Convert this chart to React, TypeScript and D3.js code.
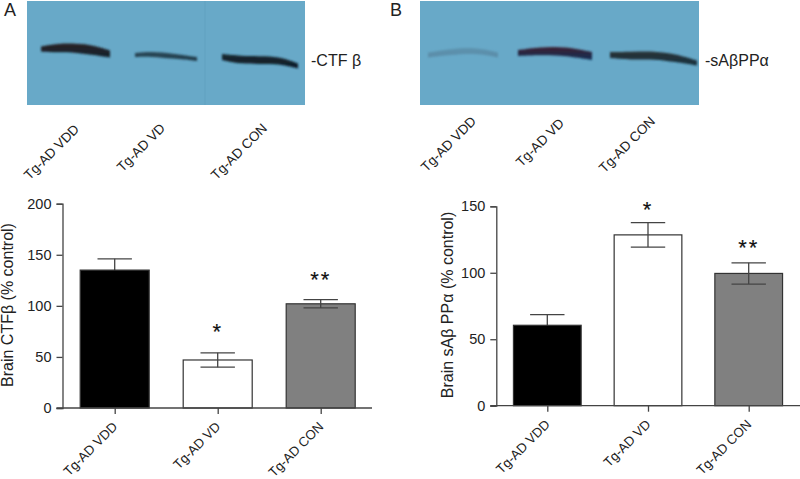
import { useRef, useEffect } from "react";
import * as d3 from "d3";

const categories = ["Tg-AD VDD", "Tg-AD VD", "Tg-AD CON"];
const barFills = ["#000000", "#ffffff", "#808080"];

const ctfValues = [135, 47, 102];
const ctfErrors = [11, 7, 4];
const ctfTicks = [0, 50, 100, 150, 200];
const ctfStars = ["", "*", "**"];
const ctfStarLevels = [0, 68, 118];

const sappValues = [60.5, 128.5, 99.5];
const sappErrors = [8, 9.2, 8];
const sappTicks = [0, 50, 100, 150];
const sappStars = ["", "*", "**"];
const sappStarLevels = [0, 142, 113];

// blot bands: [position along the blot, centre height, thickness], in blot pixels
const ctfBands: number[][][] = [
  [[14, 49, 5], [30, 48, 9], [50, 48, 9], [66, 50, 10], [83, 54, 7]],
  [[108, 55, 4], [125, 54, 5], [145, 56, 5], [170, 59, 4]],
  [[195, 57, 6], [213, 60, 8], [240, 60, 8], [255, 61, 7], [271, 66, 5]],
];
// top and bottom colour of each band
const ctfBandColors = [
  ["#2c2226", "#10242e"],
  ["#2c4a58", "#1e3a4a"],
  ["#1a2830", "#0c1c28"],
];

const sappBands: number[][][] = [
  [[8, 55, 5], [30, 52, 6], [55, 50, 6], [78, 55, 5]],
  [[98, 53, 6], [120, 51, 8], [145, 51, 9], [172, 56, 8]],
  [[190, 55, 6], [210, 56, 8], [235, 55, 8], [255, 58, 8], [277, 63, 5]],
];
const sappBandColors = [
  ["#5d93ae", "#5a8ca8"],
  ["#3e2030", "#123058"],
  ["#2a3438", "#16303e"],
];

// lane label ends (baseline) above the bar charts
const ctfLaneEnds = [[80, 130], [166, 129], [268, 129]];
const sappLaneEnds = [[477, 122], [565, 124], [656, 122]];

const FONT = "'Liberation Sans', Arial, sans-serif";
const INK = "#222";
const AXIS = "#444";

type Svg = d3.Selection<SVGSVGElement, unknown, null, undefined>;

type BarPanel = {
  values: number[];
  errors: number[];
  ticks: number[];
  stars: string[];
  starLevels: number[];
  yMax: number;
  left: number;
  right: number;
  top: number;
  bottom: number;
  firstCenter: number;
  lastCenter: number;
  barWidth: number;
  title: string;
  titleX: number;
};

function drawBars(svg: Svg, p: BarPanel) {
  const y = d3.scaleLinear().domain([0, p.yMax]).range([p.bottom, p.top]);
  const x = d3
    .scalePoint<string>()
    .domain(categories)
    .range([p.firstCenter, p.lastCenter]);
  const g = svg.append("g");

  categories.forEach((cat, i) => {
    const cx = x(cat) as number;
    const top = y(p.values[i]);
    const hi = y(p.values[i] + p.errors[i]);
    const lo = y(p.values[i] - p.errors[i]);

    const drawBar = () =>
      g
        .append("rect")
        .attr("x", cx - p.barWidth / 2)
        .attr("y", top)
        .attr("width", p.barWidth)
        .attr("height", p.bottom - top)
        .attr("fill", barFills[i])
        .attr("stroke", "#333")
        .attr("stroke-width", 1.2);

    // black bar hides the lower half of its whisker
    if (i !== 0) drawBar();
    g.append("line")
      .attr("x1", cx)
      .attr("x2", cx)
      .attr("y1", hi)
      .attr("y2", lo)
      .attr("stroke", AXIS)
      .attr("stroke-width", 1.3);
    [hi, lo].forEach((cap) => {
      g.append("line")
        .attr("x1", cx - 17.2)
        .attr("x2", cx + 17.2)
        .attr("y1", cap)
        .attr("y2", cap)
        .attr("stroke", AXIS)
        .attr("stroke-width", 1.3);
    });
    if (i === 0) drawBar();

    if (p.stars[i]) {
      g.append("text")
        .attr("x", cx)
        .attr("y", y(p.starLevels[i]))
        .attr("text-anchor", "middle")
        .attr("font-family", FONT)
        .attr("font-size", 22)
        .attr("letter-spacing", 2)
        .attr("fill", "#111")
        .attr("stroke", "#111")
        .attr("stroke-width", 0.15)
        .text(p.stars[i]);
    }
  });

  const yAxis = g
    .append("g")
    .attr("transform", `translate(${p.left},0)`)
    .call(d3.axisLeft(y).tickValues(p.ticks).tickSize(6).tickPadding(5));
  const xAxis = g
    .append("g")
    .attr("transform", `translate(0,${p.bottom})`)
    .call(d3.axisBottom(x).tickSize(6));
  xAxis.select(".domain").remove();
  xAxis
    .append("line")
    .attr("x1", p.left - 6)
    .attr("x2", p.right)
    .attr("stroke", AXIS)
    .attr("stroke-width", 1.3);
  yAxis.select(".domain").attr("stroke", AXIS).attr("stroke-width", 1.3);
  g.selectAll(".tick line").attr("stroke", AXIS).attr("stroke-width", 1.3);
  yAxis
    .selectAll(".tick text")
    .attr("font-family", FONT)
    .attr("font-size", 14.5)
    .attr("fill", INK);
  xAxis
    .selectAll(".tick text")
    .attr("font-family", FONT)
    .attr("font-size", 13.2)
    .attr("fill", INK)
    .attr("text-anchor", "end")
    .attr("x", 0)
    .attr("y", 0)
    .attr("dy", 0)
    .attr("transform", "translate(3,19.5) rotate(-45)");

  g.append("text")
    .attr("transform", `translate(${p.titleX},305) rotate(-90)`)
    .attr("text-anchor", "middle")
    .attr("font-family", FONT)
    .attr("font-size", 16)
    .attr("fill", INK)
    .text(p.title);
}

function drawBlot(
  svg: Svg,
  id: string,
  left: number,
  width: number,
  bands: number[][][],
  colors: string[][],
  label: string,
  labelX: number,
  seamX?: number
) {
  const defs = svg.select("defs");
  const blot = svg.append("g").attr("transform", `translate(${left},0)`);
  blot
    .append("rect")
    .attr("y", 1)
    .attr("width", width)
    .attr("height", 104)
    .attr("fill", "#68a9c8");
  if (seamX !== undefined) {
    // faint join between the two gel pieces
    blot
      .append("line")
      .attr("x1", seamX)
      .attr("x2", seamX)
      .attr("y1", 1)
      .attr("y2", 105)
      .attr("stroke", "#5f9fbf")
      .attr("stroke-width", 2)
      .attr("stroke-opacity", 0.4);
  }
  const area = d3
    .area<number[]>()
    .x((d) => d[0])
    .y0((d) => d[1] - d[2] / 2)
    .y1((d) => d[1] + d[2] / 2)
    .curve(d3.curveBasis);
  bands.forEach((band, i) => {
    const gradId = `${id}-band-${i}`;
    const grad = defs
      .append("linearGradient")
      .attr("id", gradId)
      .attr("x1", 0)
      .attr("x2", 0)
      .attr("y1", 0)
      .attr("y2", 1);
    grad.append("stop").attr("offset", "0%").attr("stop-color", colors[i][0]);
    grad.append("stop").attr("offset", "100%").attr("stop-color", colors[i][1]);
    blot
      .append("path")
      .attr("d", area(band))
      .attr("fill", `url(#${gradId})`)
      .attr("filter", "url(#bandBlur)");
  });
  svg
    .append("text")
    .attr("x", labelX)
    .attr("y", 66)
    .attr("font-family", FONT)
    .attr("font-size", 16)
    .attr("fill", INK)
    .text(label);
}

function drawLaneLabels(svg: Svg, ends: number[][]) {
  categories.forEach((cat, i) => {
    svg
      .append("text")
      .attr("transform", `translate(${ends[i][0]},${ends[i][1]}) rotate(-45)`)
      .attr("text-anchor", "end")
      .attr("font-family", FONT)
      .attr("font-size", 13.5)
      .attr("fill", INK)
      .text(cat);
  });
}

export default function App() {
  const svgRef = useRef<SVGSVGElement>(null);

  useEffect(() => {
    if (!svgRef.current) return;
    const svg = d3.select(svgRef.current);
    svg.selectAll("*").remove();

    svg
      .append("defs")
      .append("filter")
      .attr("id", "bandBlur")
      .attr("x", "-10%")
      .attr("y", "-60%")
      .attr("width", "120%")
      .attr("height", "220%")
      .append("feGaussianBlur")
      .attr("stdDeviation", 0.9);

    drawBlot(svg, "ctf", 27, 278, ctfBands, ctfBandColors, "-CTF β", 311, 178);
    drawBlot(svg, "sapp", 420, 279, sappBands, sappBandColors, "-sAβPPα", 705);

    drawLaneLabels(svg, ctfLaneEnds);
    drawLaneLabels(svg, sappLaneEnds);

    drawBars(svg, {
      values: ctfValues,
      errors: ctfErrors,
      ticks: ctfTicks,
      stars: ctfStars,
      starLevels: ctfStarLevels,
      yMax: 200,
      left: 62.5,
      right: 372,
      top: 203.7,
      bottom: 408,
      firstCenter: 114.7,
      lastCenter: 320.7,
      barWidth: 69,
      title: "Brain CTFβ (% control)",
      titleX: 12.5,
    });
    drawBars(svg, {
      values: sappValues,
      errors: sappErrors,
      ticks: sappTicks,
      stars: sappStars,
      starLevels: sappStarLevels,
      yMax: 150,
      left: 496.3,
      right: 800,
      top: 206.3,
      bottom: 405.7,
      firstCenter: 547.3,
      lastCenter: 748.7,
      barWidth: 67.7,
      title: "Brain sAβ PPα (% control)",
      titleX: 452.5,
    });

    [
      ["A", 4],
      ["B", 390],
    ].forEach(([t, xPos]) => {
      svg
        .append("text")
        .attr("x", xPos as number)
        .attr("y", 15.5)
        .attr("font-family", FONT)
        .attr("font-size", 18)
        .attr("fill", INK)
        .text(t as string);
    });
  }, []);

  return (
    <svg
      ref={svgRef}
      width={800}
      height={479}
      style={{ position: "absolute", left: 0, top: 0, background: "#fff" }}
    />
  );
}
